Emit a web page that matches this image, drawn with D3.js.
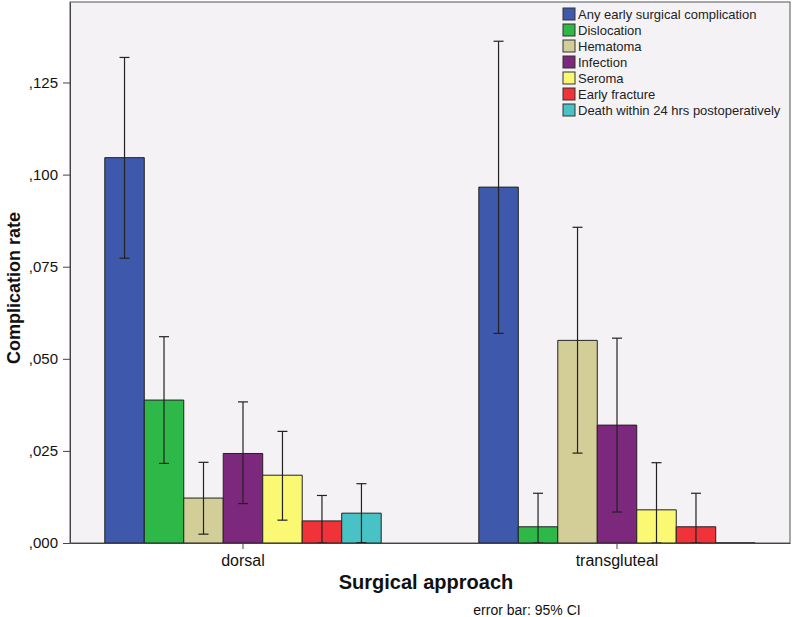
<!DOCTYPE html>
<html>
<head>
<meta charset="utf-8">
<script src="https://cdn.jsdelivr.net/npm/d3@7"></script>
<style>
  body { margin: 0; background: #fff; }
  svg { display: block; font-family: Arial, "Liberation Sans", sans-serif; }
</style>
</head>
<body>
<svg id="chart" width="793" height="617"></svg>
<script>
const categories = ["dorsal", "transgluteal"];
const seriesNames = ["Any early surgical complication", "Dislocation", "Hematoma", "Infection", "Seroma", "Early fracture", "Death within 24 hrs postoperatively"];
const seriesColors = ["#3E58AC", "#2EB848", "#D3CE97", "#7C287D", "#FBF873", "#EF3338", "#48C2C5"];
// mean rates per category (one array per category, one entry per series)
const dorsalValues = [0.1046, 0.0388, 0.0122, 0.0243, 0.0184, 0.0060, 0.0081];
const transglutealValues = [0.0966, 0.0044, 0.0550, 0.0320, 0.0090, 0.0044, 0.0000];
// 95% CI lower / upper
const dorsalLow = [0.0773, 0.0216, 0.0024, 0.0107, 0.0062, 0.0000, 0.0001];
const dorsalHigh = [0.1318, 0.0560, 0.0219, 0.0383, 0.0303, 0.0129, 0.0161];
const transLow = [0.0569, 0.0000, 0.0244, 0.0084, 0.0000, 0.0000, 0.0000];
const transHigh = [0.1362, 0.0135, 0.0857, 0.0556, 0.0218, 0.0135, 0.0000];
const yTicks = [0, 0.025, 0.05, 0.075, 0.1, 0.125];

(function () {
const values = [dorsalValues, transglutealValues];
const lows = [dorsalLow, transLow];
const highs = [dorsalHigh, transHigh];

const svg = d3.select("#chart");
const pLeft = 70, pRight = 790, pTop = 2, pBottom = 543;

const y = d3.scaleLinear().domain([0, 0.14685]).range([pBottom, pTop]);
const x0 = d3.scaleBand().domain(categories).range([pLeft, pRight]).paddingInner(0.261).paddingOuter(0.093);
const x1 = d3.scaleBand().domain(seriesNames).range([0, x0.bandwidth()]);

// plot background
svg.append("rect").attr("x", pLeft).attr("y", pTop).attr("width", pRight - pLeft).attr("height", pBottom - pTop)
  .attr("fill", "#F5F2F6").attr("stroke", "#555").attr("stroke-width", 1);

const data = [];
categories.forEach((c, i) => {
  seriesNames.forEach((s, j) => {
    data.push({cat: c, ser: s, v: values[i][j], lo: lows[i][j], hi: highs[i][j], color: seriesColors[j]});
  });
});

// bars (paths so that zero-height bars still show their outline)
svg.append("g").selectAll("path").data(data).join("path")
  .attr("d", d => {
    const xa = x0(d.cat) + x1(d.ser), xb = xa + x1.bandwidth();
    const y0 = y(0), y1 = y(d.v);
    return `M${xa},${y0}V${y1}H${xb}V${y0}Z`;
  })
  .attr("fill", d => d.color)
  .attr("stroke", "#222")
  .attr("stroke-width", 1);

// error bars
const eb = svg.append("g").attr("stroke", "#222").attr("stroke-width", 1.2);
data.forEach(d => {
  const cx = x0(d.cat) + x1(d.ser) + x1.bandwidth() / 2;
  if (d.hi - d.lo <= 0) return;
  eb.append("line").attr("x1", cx).attr("x2", cx).attr("y1", y(d.hi)).attr("y2", y(d.lo));
  eb.append("line").attr("x1", cx - 5).attr("x2", cx + 5).attr("y1", y(d.hi)).attr("y2", y(d.hi));
  eb.append("line").attr("x1", cx - 5).attr("x2", cx + 5).attr("y1", y(d.lo)).attr("y2", y(d.lo));
});

// y axis
const fmt = v => d3.format(".3f")(v).replace("0.", ",");
const yAxis = svg.append("g").attr("transform", `translate(${pLeft},0)`)
  .call(d3.axisLeft(y).tickValues(yTicks).tickFormat(fmt).tickSize(7).tickSizeOuter(0));
yAxis.select(".domain").attr("stroke", "#444");
yAxis.selectAll(".tick line").attr("stroke", "#444");
yAxis.selectAll(".tick text").attr("font-size", 15).attr("fill", "#111").attr("x", -12).attr("font-family", "Arial, 'Liberation Sans', sans-serif");

// x axis
const xAxis = svg.append("g").attr("transform", `translate(0,${pBottom})`)
  .call(d3.axisBottom(x0).tickSize(6).tickSizeOuter(0));
xAxis.select(".domain").attr("stroke", "#444");
xAxis.selectAll(".tick line").attr("stroke", "#444");
xAxis.selectAll(".tick text").attr("font-size", 16).attr("fill", "#111").attr("dy", "0.85em").attr("font-family", "Arial, 'Liberation Sans', sans-serif");

// axis titles
svg.append("text").attr("transform", "translate(20,288) rotate(-90)")
  .attr("text-anchor", "middle").attr("font-size", 18).attr("font-weight", "bold").attr("fill", "#111")
  .text("Complication rate");
svg.append("text").attr("x", 426).attr("y", 589)
  .attr("text-anchor", "middle").attr("font-size", 20).attr("font-weight", "bold").attr("fill", "#111")
  .text("Surgical approach");
svg.append("text").attr("x", 527).attr("y", 615)
  .attr("text-anchor", "middle").attr("font-size", 14).attr("fill", "#111")
  .text("error bar: 95% CI");

// legend
const lg = svg.append("g").attr("transform", "translate(563,0)");
seriesNames.forEach((s, j) => {
  const yy = 14 + j * 16;
  lg.append("rect").attr("x", 0).attr("y", yy - 6).attr("width", 12).attr("height", 12)
    .attr("fill", seriesColors[j]).attr("stroke", "#333").attr("stroke-width", 1);
  lg.append("text").attr("x", 15).attr("y", yy + 5).attr("font-size", 13).attr("fill", "#222").text(s);
});
})();
</script>
</body>
</html>
